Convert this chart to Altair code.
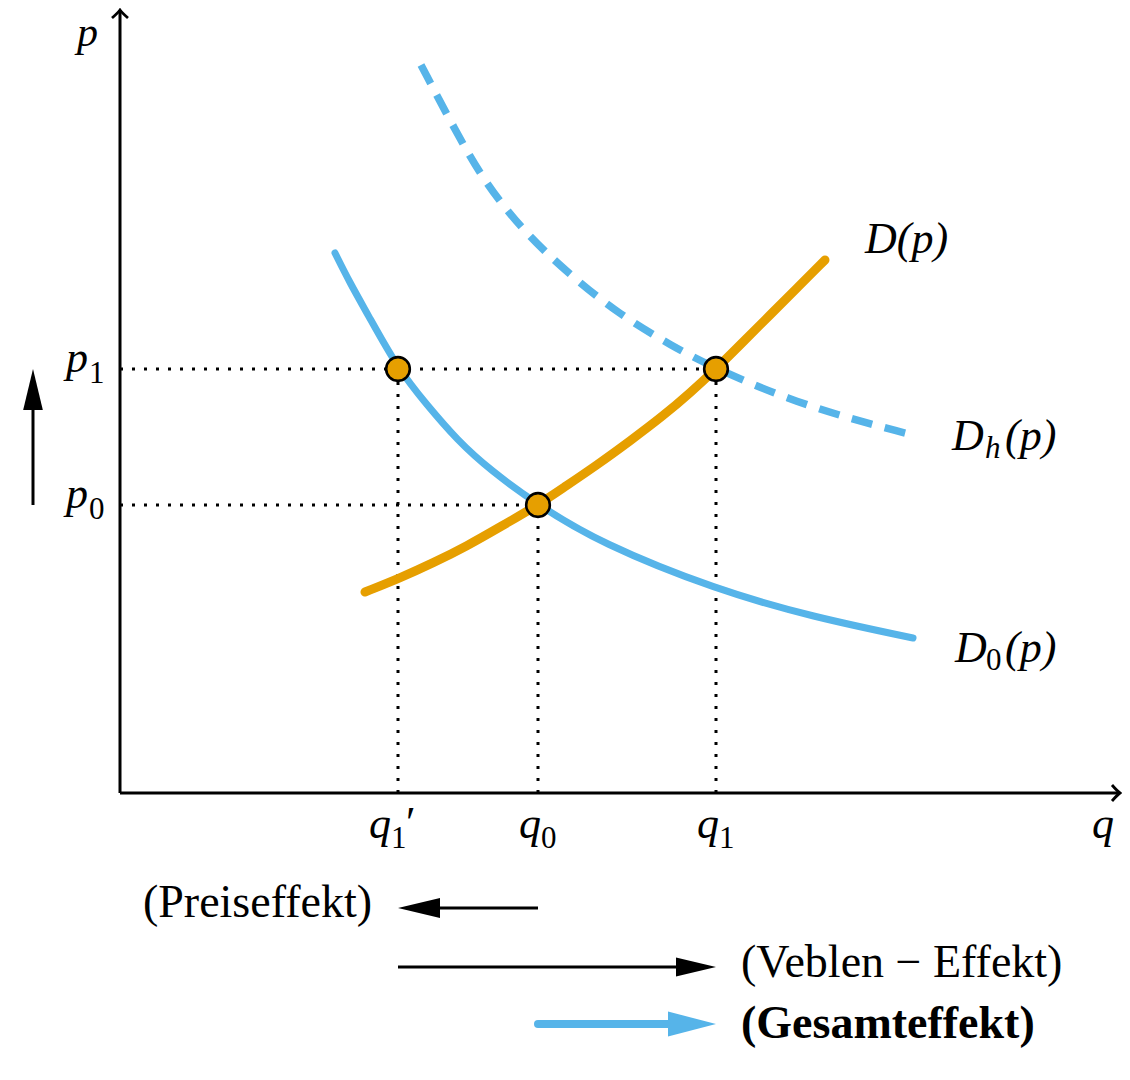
import altair as alt
import pandas as pd

# ---------------- data ----------------
Q1_PRIME, Q0, Q1 = 2.78, 4.18, 5.96     # quantities q1', q0, q1
P0, P1 = 2.88, 4.24                      # prices p0, p1

# normal demand D0(p)
d0_q = [2.15, 2.30, 2.47, 2.78, 3.07, 3.37, 3.70, 4.18, 4.80, 5.97, 6.93, 7.93]
d0_p = [5.40, 5.10, 4.80, 4.24, 3.88, 3.53, 3.23, 2.88, 2.50, 2.03, 1.76, 1.55]
# demand at the higher price level Dh(p)
dh_q = [3.01, 3.35, 3.65, 4.05, 4.50, 5.00, 5.52, 5.96, 6.77, 7.57, 7.93]
dh_p = [7.28, 6.63, 6.10, 5.60, 5.18, 4.78, 4.47, 4.24, 3.90, 3.67, 3.58]
# Veblen demand D(p)
d_q = [2.45, 2.80, 3.13, 3.47, 3.80, 4.18, 4.43, 4.77, 5.10, 5.43, 5.70, 5.96, 6.23, 6.50, 6.77, 7.05]
d_p = [2.01, 2.15, 2.30, 2.47, 2.66, 2.88, 3.05, 3.28, 3.52, 3.77, 4.00, 4.24, 4.51, 4.78, 5.05, 5.33]

eq_q = [Q1_PRIME, Q0, Q1]
eq_p = [P1, P0, P1]

p_tick_vals = [P1, P0]
p_tick_sub = ["1", "0"]
q_tick_vals = [Q0, Q1]
q_tick_sub = ["0", "1"]

effect_names = ["(Preiseffekt)", "(Veblen \u2212 Effekt)", "(Gesamteffekt)"]
effect_from = [Q0, Q1_PRIME, Q0]
effect_to = [Q1_PRIME, Q1, Q1]

# ---------------- layout / style ----------------
BLUE = "#56B4E9"
ORANGE = "#E69F00"
FONT = "Liberation Serif"
MATH = 44
SUB = 31
TXT = 46

W, H = 1114, 1050
xs = alt.Scale(domain=[-1.12, 10.02], nice=False, zero=False)   # 100 px per unit
ys = alt.Scale(domain=[-2.65, 7.85], nice=False, zero=False)    # 100 px per unit

X_END, Y_END = 10.0, 7.83
ROW_Y = [-1.15, -1.74, -2.31]        # rows of the effect arrows
UP_X = -0.87                          # x of the price arrow
TRI = "M1,0 L-1,-0.48 L-1,0.48 Z"
TRI_WIDE = "M1,0 L-1,-0.52 L-1,0.52 Z"
CHEV = "M-1,-1 Q-0.35,-0.25 0,0 Q-0.35,0.25 -1,1"


def X(f):
    return alt.X(f, type="quantitative", scale=xs, axis=None)


def Y(f):
    return alt.Y(f, type="quantitative", scale=ys, axis=None)


def pts(xv, yv):
    return alt.Chart(pd.DataFrame({"x": xv, "y": yv}))


layers = []

# dotted guide lines
layers.append(
    alt.Chart(pd.DataFrame({"x": [0, 0], "x2": [Q1, Q0], "y": [P1, P0]}))
    .mark_rule(color="black", strokeWidth=3, strokeDash=[3, 9])
    .encode(x=X("x"), x2="x2", y=Y("y"))
)
layers.append(
    alt.Chart(pd.DataFrame({"x": eq_q, "y": [0, 0, 0], "y2": eq_p}))
    .mark_rule(color="black", strokeWidth=3, strokeDash=[3, 9])
    .encode(x=X("x"), y=Y("y"), y2="y2")
)

# axes
layers.append(
    alt.Chart(pd.DataFrame({"x": [0, 0], "x2": [X_END, 0], "y": [0, 0], "y2": [0, Y_END]}))
    .mark_rule(color="black", strokeWidth=3)
    .encode(x=X("x"), x2="x2", y=Y("y"), y2="y2")
)
layers.append(
    pts([X_END], [0]).mark_point(shape=CHEV, size=256, filled=False, color="black",
                                 strokeWidth=2.8, opacity=1, angle=0)
    .encode(x=X("x"), y=Y("y"))
)
layers.append(
    pts([0], [Y_END]).mark_point(shape=CHEV, size=256, filled=False, color="black",
                                 strokeWidth=2.8, opacity=1, angle=270)
    .encode(x=X("x"), y=Y("y"))
)

# curves (smooth B-spline through the read points)
layers.append(
    pts(d0_q, d0_p).mark_line(color=BLUE, strokeWidth=7, strokeCap="round", interpolate="basis")
    .encode(x=X("x"), y=Y("y"))
)
layers.append(
    pts(dh_q, dh_p).mark_line(color=BLUE, strokeWidth=7.5, strokeCap="butt", strokeDash=[21, 13],
                              interpolate="basis")
    .encode(x=X("x"), y=Y("y"))
)
layers.append(
    pts(d_q, d_p).mark_line(color=ORANGE, strokeWidth=9, strokeCap="round", interpolate="basis")
    .encode(x=X("x"), y=Y("y"))
)

# equilibrium points
layers.append(
    pts(eq_q, eq_p).mark_point(shape="circle", size=560, filled=True, fill=ORANGE, stroke="black",
                               strokeWidth=2.6, opacity=1)
    .encode(x=X("x"), y=Y("y"))
)

# price increase arrow (left)
layers.append(
    alt.Chart(pd.DataFrame({"x": [UP_X], "y": [P0], "y2": [P1 - 0.205]}))
    .mark_rule(color="black", strokeWidth=3)
    .encode(x=X("x"), y=Y("y"), y2="y2")
)
layers.append(
    pts([UP_X], [P1 - 0.205]).mark_point(shape=TRI, size=1681, filled=True, color="black",
                                         opacity=1, strokeWidth=0, angle=270)
    .encode(x=X("x"), y=Y("y"))
)

# effect arrows
head_half = [0.21, 0.20, 0.24]
head_size = [1764, 1600, 2304]
head_col = ["black", "black", BLUE]
shaft_w = [3, 3, 8]
for i in range(3):
    direction = 1 if effect_to[i] > effect_from[i] else -1
    hc = effect_to[i] - direction * head_half[i]
    layers.append(
        alt.Chart(pd.DataFrame({"x": [effect_from[i]], "x2": [hc], "y": [ROW_Y[i]]}))
        .mark_rule(color=head_col[i], strokeWidth=shaft_w[i], strokeCap="round" if i == 2 else "butt")
        .encode(x=X("x"), x2="x2", y=Y("y"))
    )
    layers.append(
        pts([hc], [ROW_Y[i]]).mark_point(shape=TRI if i < 2 else TRI_WIDE, size=head_size[i],
                                         filled=True, color=head_col[i], opacity=1, strokeWidth=0,
                                         angle=0 if direction > 0 else 180)
        .encode(x=X("x"), y=Y("y"))
    )

# effect labels
layers.append(
    pts([effect_to[0]], [ROW_Y[0]]).mark_text(text=effect_names[0], font=FONT, fontSize=TXT,
                                              align="right", baseline="alphabetic", dx=-26, dy=9)
    .encode(x=X("x"), y=Y("y"))
)
layers.append(
    pts([effect_to[1]], [ROW_Y[1]]).mark_text(text=effect_names[1], font=FONT, fontSize=TXT,
                                              align="left", baseline="alphabetic", dx=25, dy=10)
    .encode(x=X("x"), y=Y("y"))
)
layers.append(
    pts([effect_to[2]], [ROW_Y[2]]).mark_text(text=effect_names[2], font=FONT, fontSize=TXT,
                                              fontWeight="bold", align="left", baseline="alphabetic",
                                              dx=25, dy=14)
    .encode(x=X("x"), y=Y("y"))
)


def math_text(xv, yv, txt, dx, dy, size=MATH, italic=True):
    return (
        pts(xv, yv)
        .mark_text(text=txt, font=FONT, fontSize=size, fontStyle="italic" if italic else "normal",
                   align="left", baseline="alphabetic", dx=dx, dy=dy)
        .encode(x=X("x"), y=Y("y"))
    )


def sub_text(xv, yv, labels, dx, dy):
    return (
        alt.Chart(pd.DataFrame({"x": xv, "y": yv, "t": labels}))
        .mark_text(font=FONT, fontSize=SUB, align="left", baseline="alphabetic", dx=dx, dy=dy)
        .encode(x=X("x"), y=Y("y"), text="t:N")
    )


# axis titles
layers.append(math_text([0], [Y_END], "p", -43, 36, size=42))
layers.append(math_text([X_END], [0], "q", -28, 45))

# p tick labels
layers.append(math_text([0, 0], p_tick_vals, "p", -54, 3))
layers.append(sub_text([0, 0], p_tick_vals, p_tick_sub, -31, 14))

# q tick labels
layers.append(math_text(q_tick_vals, [0, 0], "q", -19, 45))
layers.append(sub_text(q_tick_vals, [0, 0], q_tick_sub, 3, 55))
layers.append(math_text([Q1_PRIME], [0], "q", -29, 45))
layers.append(sub_text([Q1_PRIME], [0], ["1"], -7, 55))
layers.append(math_text([Q1_PRIME], [0], "\u2032", 8, 44, italic=False))

# curve labels
layers.append(math_text([d_q[-1]], [d_p[-1]], "D(p)", 40, -7))
layers.append(math_text([dh_q[-1]], [dh_p[-1]], "D", 39, 15))
layers.append(math_text([dh_q[-1]], [dh_p[-1]], "h", 72, 23, size=SUB))
layers.append(math_text([dh_q[-1]], [dh_p[-1]], "(p)", 92, 15))
layers.append(math_text([d0_q[-1]], [d0_p[-1]], "D", 42, 24))
layers.append(sub_text([d0_q[-1]], [d0_p[-1]], ["0"], 73, 32))
layers.append(math_text([d0_q[-1]], [d0_p[-1]], "(p)", 92, 24))

chart = (
    alt.layer(*layers)
    .properties(width=W, height=H, padding=0, autosize="none")
    .configure_view(stroke=None)
)

chart.save("out.html", embed_options={"renderer": "svg", "actions": False})
